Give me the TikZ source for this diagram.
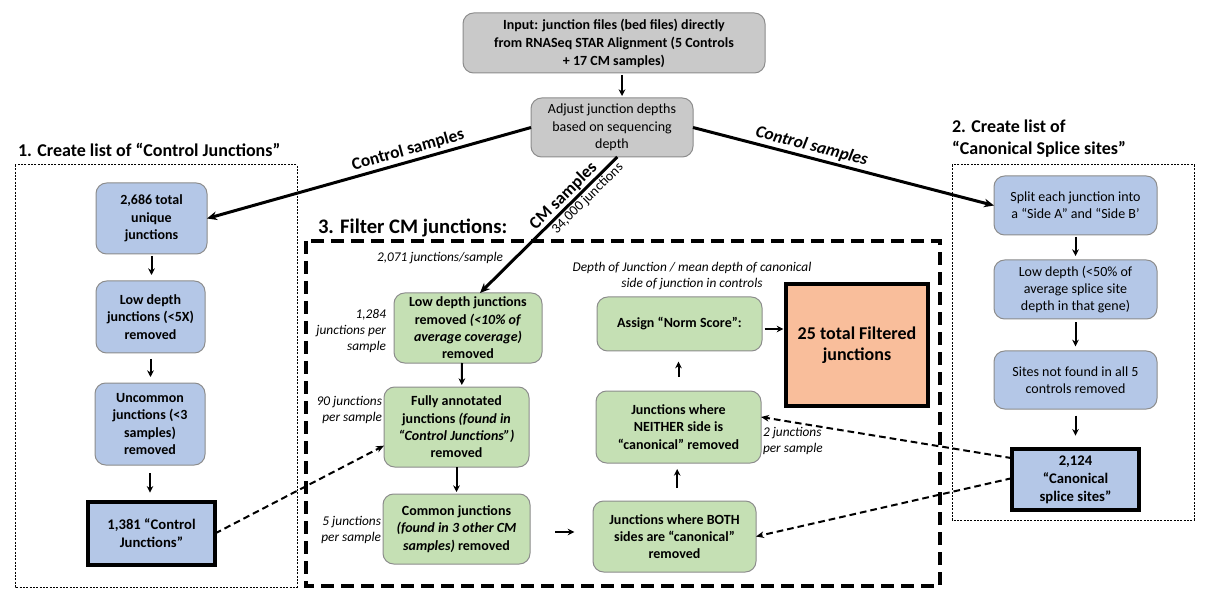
\documentclass[tikz,border=0pt]{standalone}
\usepackage{fontspec}
\setmainfont{Carlito}
\usetikzlibrary{arrows.meta}
\definecolor{graybox}{HTML}{C9C9C9}
\definecolor{bluebox}{HTML}{B4C7E7}
\definecolor{greenbox}{HTML}{C5E0B4}
\definecolor{salmonbox}{HTML}{F9BE9B}
\definecolor{edgegray}{HTML}{8C8C8C}
\begin{document}
\begin{tikzpicture}[x=0.75pt,y=-0.75pt,
  every node/.style={inner sep=0pt, outer sep=0pt},
  boxbase/.style={align=center, font=\fontsize{10.5}{13}\selectfont, rounded corners=8pt, draw=edgegray, line width=0.75pt},
  graynode/.style={boxbase, fill=graybox},
  bluenode/.style={boxbase, fill=bluebox, font=\bfseries\fontsize{10.5}{13}\selectfont},
  bluereg/.style={boxbase, fill=bluebox},
  greennode/.style={boxbase, fill=greenbox, font=\bfseries\fontsize{10.5}{13}\selectfont},
  keybox/.style={align=center, draw=black, line width=3pt, fill=bluebox, font=\bfseries\fontsize{11}{13.5}\selectfont},
  resbox/.style={align=center, draw=black, line width=3pt, fill=salmonbox, font=\bfseries\fontsize{13.5}{16}\selectfont},
  note/.style={font=\itshape\fontsize{10}{12}\selectfont},
  title/.style={anchor=west, align=left, font=\bfseries\fontsize{13.5}{16.5}\selectfont},
  bigarrow/.style={line width=2.25pt, -{Stealth[length=7.5pt,width=6.5pt]}},
  smallarrow/.style={line width=1.5pt, -{Stealth[length=5pt,width=5pt]}},
  dasharrow/.style={line width=1.5pt, dash pattern=on 5pt off 3pt, -{Stealth[length=6pt,width=5pt]}},
  frame/.style={line width=0.75pt, dash pattern=on 1.5pt off 1pt}
]
\useasboundingbox (0,0) rectangle (1214,602);
\fill[white] (0,0) rectangle (1214,602);

% frames
\draw[frame] (15,165) rectangle (297,587);
\draw[frame] (952,165) rectangle (1194,520);
\draw[line width=3.5pt, dash pattern=on 10pt off 5pt] (306,241) rectangle (940,586);

% titles
\node[title] (t1) at (18,150) {1. Create list of “Control Junctions”};
\node[title] (t2) at (952,139) {2. Create list of\\“Canonical Splice sites”};
\node[title, font=\bfseries\fontsize{15.5}{18}\selectfont] (t3) at (318,228) {3. Filter CM junctions:};

% top
\node[graynode, font=\bfseries\fontsize{10.5}{13.5}\selectfont, minimum width=302*0.75pt, minimum height=60*0.75pt] (input) at (614,43)
  {Input: junction files (bed files) directly\\from RNASeq STAR Alignment (5 Controls\\+ 17 CM samples)};
\node[graynode, minimum width=162*0.75pt, minimum height=59*0.75pt] (adjust) at (612,127.5)
  {Adjust junction depths\\based on sequencing\\depth};

% left column
\node[bluenode, minimum width=111*0.75pt, minimum height=71*0.75pt] (c1) at (151.5,218.5) {2,686 total\\unique\\junctions};
\node[bluenode, minimum width=109*0.75pt, minimum height=72*0.75pt] (c2) at (150.5,317) {Low depth\\junctions (<5X)\\removed};
\node[bluenode, minimum width=110*0.75pt, minimum height=82*0.75pt] (c3) at (150,424) {Uncommon\\junctions (<3\\samples)\\removed};
\node[keybox, minimum width=127*0.75pt, minimum height=63*0.75pt] (c4) at (151.5,533.5) {1,381 “Control\\Junctions”};

% right column
\node[bluereg, minimum width=163*0.75pt, minimum height=59*0.75pt] (s1) at (1075.5,205.5) {Split each junction into\\a “Side A” and “Side B’};
\node[bluereg, minimum width=163*0.75pt, minimum height=59*0.75pt] (s2) at (1075.5,289.5) {Low depth (<50\% of\\average splice site\\depth in that gene)};
\node[bluereg, minimum width=163*0.75pt, minimum height=58*0.75pt] (s3) at (1075.5,380) {Sites not found in all 5\\controls removed};
\node[keybox, minimum width=127*0.75pt, minimum height=61*0.75pt] (s4) at (1075.5,479.5) {2,124\\“Canonical\\splice sites”};

% center
\node[greennode, minimum width=148*0.75pt, minimum height=70*0.75pt] (g1) at (468,328)
  {Low depth junctions\\removed \textit{(<10\% of}\\\textit{average coverage)}\\removed};
\node[greennode, minimum width=145*0.75pt, minimum height=80*0.75pt] (g2) at (456.5,427)
  {Fully annotated\\junctions \textit{(found in}\\\textit{“Control Junctions”)}\\removed};
\node[greennode, minimum width=147*0.75pt, minimum height=70*0.75pt] (g3) at (456.5,529)
  {Common junctions\\\textit{(found in 3 other CM}\\\textit{samples)} removed};
\node[greennode, minimum width=163*0.75pt, minimum height=71*0.75pt] (g4) at (674.5,536.5)
  {Junctions where BOTH\\sides are “canonical”\\removed};
\node[greennode, minimum width=165*0.75pt, minimum height=72*0.75pt] (g5) at (678.5,427)
  {Junctions where\\NEITHER side is\\“canonical” removed};
\node[greennode, minimum width=165*0.75pt, minimum height=54*0.75pt] (g6) at (679.5,324)
  {Assign “Norm Score”:};
\node[resbox, minimum width=142*0.75pt, minimum height=122*0.75pt] (res) at (857,345)
  {25 total Filtered\\junctions};

% notes
\node[note] (n1) at (440,258) {2,071 junctions/sample};
\node[note, anchor=east, align=right] (n2) at (386,331) {1,284\\junctions per\\sample};
\node[note, anchor=east, align=right] (n3) at (382,410) {90 junctions\\per sample};
\node[note, anchor=east, align=right] (n4) at (381,530) {5 junctions\\per sample};
\node[note, align=center] (n5) at (692,276) {Depth of Junction / mean depth of canonical\\side of junction in controls};
\node[note, anchor=west, align=left] (n6) at (763,441) {2 junctions\\per sample};

% main connectors
\draw[smallarrow, shorten <=1.5pt, shorten >=1.5pt] ([xshift=6pt]input.south) -- ([xshift=7.5pt]adjust.north);
\draw[bigarrow] (adjust.west) -- node[pos=0.37, sloped, above=3pt, font=\bfseries\fontsize{13}{15}\selectfont] (lblA) {Control samples} (c1.east);
\draw[bigarrow] (adjust.east) -- node[pos=0.385, sloped, above=3pt, font=\bfseries\itshape\fontsize{13}{15}\selectfont] (lblB) {Control samples} (s1.west);
\draw[bigarrow] ([xshift=4pt]adjust.south) --
  node[pos=0.34, sloped, above=2pt, font=\bfseries\fontsize{13}{15}\selectfont] (lblC) {CM samples}
  node[pos=0.26, sloped, below=2pt, font=\fontsize{10.5}{12}\selectfont] (lblD) {34,000 junctions}
  ([xshift=9pt]g1.north);

% left vertical
\draw[smallarrow, shorten <=1.5pt, shorten >=4.5pt] (c1.south) -- (c1.south |- c2.north);
\draw[smallarrow, shorten <=4.5pt, shorten >=4.5pt] (c2.south) -- (c2.south |- c3.north);
\draw[smallarrow, shorten <=6pt, shorten >=7pt] (c3.south) -- (c3.south |- c4.north);

% right vertical
\draw[smallarrow, shorten <=1.5pt, shorten >=3pt] (s1.south) -- (s2.north);
\draw[smallarrow, shorten <=2.5pt, shorten >=3.5pt] (s2.south) -- (s3.north);
\draw[smallarrow, shorten <=5pt, shorten >=10pt] (s3.south) -- (s4.north);

% center flow
\draw[smallarrow, shorten >=1.5pt] ([xshift=-4.5pt]g1.south) -- ([xshift=4pt]g2.north);
\draw[smallarrow, shorten >=1.5pt] (g2.south) -- (g3.north);
\draw[smallarrow, shorten <=18.75pt, shorten >=14pt] ([yshift=-2.25pt]g3.east) -- ([yshift=-2.25pt]g3.east -| g4.west);
\draw[smallarrow, shorten <=9.75pt, shorten >=4.5pt] ([xshift=2pt]g4.north) -- ([xshift=2pt]g4.north |- g5.south);
\draw[smallarrow, shorten <=10.5pt, shorten >=8pt] (g5.north) -- (g5.north |- g6.south);
\draw[smallarrow, shorten <=2pt, shorten >=2pt] ([yshift=-3.75pt]g6.east) -- ([yshift=-3.75pt]g6.east -| res.west);

% dashed connectors
\draw[dasharrow] (c4.east) -- ([yshift=-14pt]g2.west);
\draw[dasharrow] ([yshift=16pt]s4.west) -- ([yshift=7.5pt]g5.east);
\draw[dasharrow] ([yshift=1pt]s4.west) -- (g4.east);
\end{tikzpicture}
\end{document}
